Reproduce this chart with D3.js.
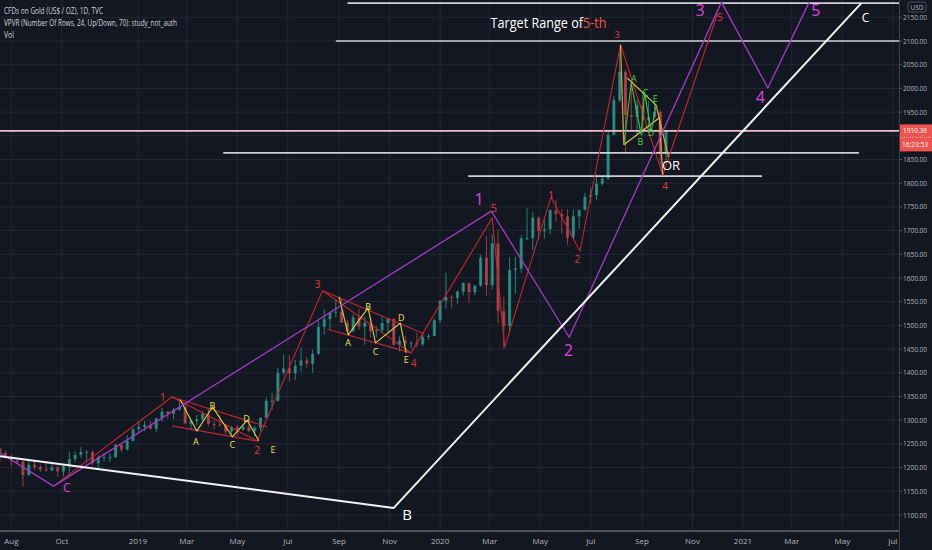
<!DOCTYPE html>
<html>
<head>
<meta charset="utf-8">
<script src="https://cdn.jsdelivr.net/npm/d3@7"></script>
<style>
  body { margin: 0; background: #131722; overflow: hidden; }
  svg { display: block; }
  text { font-family: "Open Sans", sans-serif; }
</style>
</head>
<body>
<div class="chart"></div>
<script>
// Weekly candles: [week start, open, high, low, close]
const candles = [
  ["2018-07-16",1241,1244,1211,1231],["2018-07-23",1231,1236,1219,1223],["2018-07-30",1223,1227,1204,1214],
  ["2018-08-06",1214,1220,1207,1212],["2018-08-13",1212,1219,1160,1184],["2018-08-20",1184,1214,1183,1206],
  ["2018-08-27",1206,1215,1195,1201],["2018-09-03",1201,1206,1191,1196],["2018-09-10",1196,1214,1191,1194],
  ["2018-09-17",1194,1211,1192,1200],["2018-09-24",1200,1204,1180,1192],["2018-10-01",1192,1208,1181,1203],
  ["2018-10-08",1203,1233,1183,1218],["2018-10-15",1218,1234,1212,1227],["2018-10-22",1227,1243,1221,1233],
  ["2018-10-29",1233,1237,1211,1233],["2018-11-05",1233,1237,1205,1209],["2018-11-12",1209,1226,1196,1222],
  ["2018-11-19",1222,1230,1212,1222],["2018-11-26",1222,1230,1212,1222],["2018-12-03",1222,1250,1221,1248],
  ["2018-12-10",1248,1252,1233,1238],["2018-12-17",1238,1268,1236,1256],["2018-12-24",1256,1284,1256,1281],
  ["2018-12-31",1281,1298,1276,1286],["2019-01-07",1286,1298,1277,1290],["2019-01-14",1290,1298,1280,1282],
  ["2019-01-21",1282,1305,1275,1304],["2019-01-28",1304,1326,1297,1318],["2019-02-04",1318,1320,1303,1314],
  ["2019-02-11",1314,1326,1302,1322],["2019-02-18",1322,1346,1320,1328],["2019-02-25",1328,1335,1291,1293],
  ["2019-03-04",1293,1301,1280,1298],["2019-03-11",1298,1311,1289,1302],["2019-03-18",1302,1320,1298,1313],
  ["2019-03-25",1313,1324,1288,1292],["2019-04-01",1292,1298,1281,1291],["2019-04-08",1291,1310,1286,1290],
  ["2019-04-15",1290,1292,1270,1276],["2019-04-22",1276,1288,1266,1286],["2019-04-29",1286,1290,1267,1280],
  ["2019-05-06",1280,1290,1278,1286],["2019-05-13",1286,1303,1275,1277],["2019-05-20",1277,1288,1266,1284],
  ["2019-05-27",1284,1306,1277,1305],["2019-06-03",1305,1348,1305,1341],["2019-06-10",1341,1358,1322,1341],
  ["2019-06-17",1341,1411,1339,1400],["2019-06-24",1400,1439,1395,1409],["2019-07-01",1409,1437,1382,1399],
  ["2019-07-08",1399,1427,1385,1415],["2019-07-15",1415,1453,1402,1426],["2019-07-22",1426,1433,1411,1419],
  ["2019-07-29",1419,1449,1400,1440],["2019-08-05",1440,1510,1438,1497],["2019-08-12",1497,1535,1480,1513],
  ["2019-08-19",1513,1527,1491,1527],["2019-08-26",1527,1555,1517,1529],["2019-09-02",1529,1557,1505,1506],
  ["2019-09-09",1506,1512,1484,1488],["2019-09-16",1488,1524,1485,1517],["2019-09-23",1517,1535,1490,1497],
  ["2019-09-30",1497,1519,1459,1505],["2019-10-07",1505,1517,1474,1488],["2019-10-14",1488,1498,1475,1490],
  ["2019-10-21",1490,1519,1484,1505],["2019-10-28",1505,1516,1486,1514],["2019-11-04",1514,1515,1457,1459],
  ["2019-11-11",1459,1477,1445,1468],["2019-11-18",1468,1478,1456,1462],["2019-11-25",1462,1466,1451,1464],
  ["2019-12-02",1464,1484,1454,1460],["2019-12-09",1460,1480,1456,1476],["2019-12-16",1476,1482,1470,1478],
  ["2019-12-23",1478,1514,1477,1511],["2019-12-30",1511,1553,1505,1552],["2020-01-06",1552,1611,1535,1560],
  ["2020-01-13",1560,1563,1536,1558],["2020-01-20",1558,1574,1546,1571],["2020-01-27",1571,1591,1563,1589],
  ["2020-02-03",1589,1591,1547,1570],["2020-02-10",1570,1584,1564,1584],["2020-02-17",1584,1649,1581,1643],
  ["2020-02-24",1643,1689,1563,1585],["2020-03-02",1585,1692,1576,1673],["2020-03-09",1673,1703,1504,1530],
  ["2020-03-16",1530,1560,1451,1499],["2020-03-23",1499,1644,1483,1617],["2020-03-30",1617,1645,1567,1620],
  ["2020-04-06",1620,1690,1611,1684],["2020-04-13",1684,1747,1680,1684],["2020-04-20",1684,1739,1659,1727],
  ["2020-04-27",1727,1730,1680,1700],["2020-05-04",1700,1723,1683,1703],["2020-05-11",1703,1744,1692,1743],
  ["2020-05-18",1743,1765,1718,1735],["2020-05-25",1735,1745,1693,1730],["2020-06-01",1730,1745,1670,1685],
  ["2020-06-08",1685,1745,1683,1730],["2020-06-15",1730,1739,1704,1744],["2020-06-22",1744,1779,1742,1771],
  ["2020-06-29",1771,1789,1758,1775],["2020-07-06",1775,1818,1764,1799],["2020-07-13",1799,1815,1795,1810],
  ["2020-07-20",1810,1909,1807,1902],["2020-07-27",1902,1984,1902,1975],["2020-08-03",1975,2075,1970,2035],
  ["2020-08-10",2035,2040,1863,1944],["2020-08-17",1944,2015,1911,1940],["2020-08-24",1940,1976,1903,1964],
  ["2020-08-31",1964,1992,1902,1933],["2020-09-07",1933,1973,1907,1940],["2020-09-14",1940,1973,1936,1950],
  ["2020-09-21",1950,1954,1840,1862],["2020-09-28",1862,1896,1848,1910]
];

const priceTicks = [1100,1150,1200,1250,1300,1350,1400,1450,1500,1550,1600,1650,1700,1750,1800,1850,1900,1950,2000,2050,2100,2150];
const timeTicks = [
  ["2018-08-01","Aug"],["2018-10-01","Oct"],["2019-01-01","2019"],["2019-03-01","Mar"],["2019-05-01","May"],
  ["2019-07-01","Jul"],["2019-09-01","Sep"],["2019-11-01","Nov"],["2020-01-01","2020"],["2020-03-01","Mar"],
  ["2020-05-01","May"],["2020-07-01","Jul"],["2020-09-01","Sep"],["2020-11-01","Nov"],["2021-01-01","2021"],
  ["2021-03-01","Mar"],["2021-05-01","May"],["2021-07-01","Jul"]
];
const lastPrice = 1910.36;
const countdown = "16:23:53";

// drawings, as [date, price]
const whiteTrend = [["2018-07-18",1224],["2019-11-06",1115],["2021-05-24",2180]];
const magentaWave = [["2018-07-18",1231],["2018-09-21",1161],["2020-03-03",1741],["2020-06-05",1475],
  ["2020-12-06",2182],["2021-01-31",2001],["2021-03-22",2182]];
const redWave = [["2018-09-21",1161],["2019-02-11",1349],["2019-05-25",1256],["2019-08-12",1573],
  ["2019-11-27",1442],["2020-03-04",1727],["2020-03-19",1454],["2020-05-14",1771],["2020-06-18",1657],
  ["2020-08-06",2092],["2020-09-26",1817],["2020-12-01",2157]];
const redChannels = [
  [["2019-02-11",1349],["2019-06-06",1286]],
  [["2019-02-11",1288],["2019-05-25",1256]],
  [["2019-08-12",1573],["2019-12-13",1482]],
  [["2019-08-18",1492],["2019-11-27",1442]]
];
const yellowZigzags = [
  [["2019-02-21",1343],["2019-03-13",1277],["2019-04-01",1328],["2019-04-25",1265],["2019-05-13",1300],["2019-05-27",1256]],
  [["2019-09-01",1560],["2019-09-12",1480],["2019-10-06",1537],["2019-10-15",1463],["2019-11-14",1505],["2019-11-21",1442]],
  [["2020-08-10",1881],["2020-09-22",1938]],
  [["2020-08-14",2022],["2020-09-19",1963]]
];
const greenZigzag = [["2020-08-10",1881],["2020-08-19",2011],["2020-08-31",1902],["2020-09-04",1992],
  ["2020-09-12",1908],["2020-09-18",1965]];
const orangeLines = [
  [["2020-08-06",2092],["2020-08-10",1881]],
  [["2020-09-18",1965],["2020-10-03",1855]],
  [["2020-09-22",1938],["2020-09-26",1817]]
];
// [start, end (null = to the right edge), price]
const levels = [
  ["2019-09-11",null,2180],
  ["2019-08-28",null,2100],
  ["2019-04-14","2021-05-21",1864],
  ["2020-02-04","2021-01-24",1815]
];

// [text, date, price, colour, font size]
const labels = [
  ["1","2020-02-17",1767,"#e33ee6",16],["2","2020-06-04",1448,"#e33ee6",16],["3","2020-11-10",2165,"#e33ee6",16],
  ["4","2021-01-22",1982,"#e33ee6",16],["5","2021-03-30",2165,"#e33ee6",16],["C","2018-10-07",1159,"#e33ee6",12],
  ["B","2019-11-22",1102,"#ffffff",15],["C","2021-05-29",2149,"#ffffff",12],["OR","2020-10-06",1838,"#ffffff",13],
  ["1","2019-01-31",1349,"#e53935",10],["2","2019-05-25",1239,"#e53935",11],["3","2019-08-06",1587,"#e53935",10],
  ["4","2019-11-30",1421,"#e53935",10],["5","2020-03-06",1748,"#e53935",11],["1","2020-05-14",1775,"#e53935",10],
  ["2","2020-06-15",1640,"#e53935",10],["3","2020-08-02",2113,"#e53935",9],["4","2020-09-29",1794,"#e53935",10],
  ["5","2020-12-04",2151,"#e53935",10],
  ["A","2019-03-12",1256,"#e8e14c",9],["B","2019-04-01",1330,"#e8e14c",9],["C","2019-04-25",1248,"#e8e14c",9],
  ["D","2019-05-12",1303,"#e8e14c",9],["E","2019-06-13",1239,"#e8e14c",9],
  ["A","2019-09-12",1463,"#e8e14c",9],["B","2019-10-06",1539,"#e8e14c",9],["C","2019-10-15",1444,"#e8e14c",9],
  ["D","2019-11-15",1516,"#e8e14c",9],["E","2019-11-21",1429,"#e8e14c",9],
  ["A","2020-08-22",2020,"#3fd44a",9],["B","2020-08-30",1889,"#3fd44a",9],["C","2020-09-05",1992,"#3fd44a",9],
  ["D","2020-09-12",1906,"#3fd44a",9],["E","2020-09-17",1978,"#3fd44a",9]
];

// Target range note: [text, colour]
const noteParts = [["Target Range of", "#ffffff"], ["5-th", "#f05a3c"]];
const noteDate = "2020-03-02", notePrice = 2128;

const W = 932, H = 550, plotW = 899, plotH = 531;
const parse = d3.utcParse("%Y-%m-%d");

const x = d3.scaleUtc()
    .domain([parse("2019-01-01"), parse("2021-01-01")])
    .range([138, 743]);
const y = d3.scaleLinear()
    .domain([1100, 2100])
    .range([515, 41]);

const svg = d3.select(".chart").append("svg")
    .attr("width", W)
    .attr("height", H);

svg.append("rect").attr("width", W).attr("height", H).attr("fill", "#131722");
svg.append("defs").append("clipPath").attr("id", "plot")
    .append("rect").attr("width", plotW).attr("height", plotH);

const plot = svg.append("g").attr("clip-path", "url(#plot)");

// Grid
plot.selectAll(".vgrid").data(timeTicks).enter().append("line")
    .attr("x1", d => x(parse(d[0]))).attr("x2", d => x(parse(d[0])))
    .attr("y1", 0).attr("y2", plotH)
    .attr("stroke", "#232734");
plot.selectAll(".hgrid").data(priceTicks).enter().append("line")
    .attr("x1", 0).attr("x2", plotW)
    .attr("y1", d => y(d)).attr("y2", d => y(d))
    .attr("stroke", "#232734");

// Candles (centred mid-week)
const cx = d => x(d3.utcDay.offset(parse(d[0]), 2));
const up = d => d[4] >= d[1];
plot.selectAll(".wick").data(candles).enter().append("line")
    .attr("x1", cx).attr("x2", cx)
    .attr("y1", d => y(d[2])).attr("y2", d => y(d[3]))
    .attr("stroke", d => up(d) ? "#2a9b8f" : "#b8474c")
    .attr("stroke-opacity", 0.8);
plot.selectAll(".body").data(candles).enter().append("rect")
    .attr("x", d => cx(d) - 1.5)
    .attr("width", 3)
    .attr("y", d => y(Math.max(d[1], d[4])))
    .attr("height", d => Math.max(1, Math.abs(y(d[1]) - y(d[4]))))
    .attr("fill", d => up(d) ? "#2a9b8f" : "#b8474c")
    .attr("fill-opacity", 0.8);

// Horizontal levels
plot.selectAll(".level").data(levels).enter().append("line")
    .attr("x1", d => x(parse(d[0])))
    .attr("x2", d => d[1] ? x(parse(d[1])) : plotW)
    .attr("y1", d => y(d[2])).attr("y2", d => y(d[2]))
    .attr("stroke", "#cfd0d4")
    .attr("stroke-width", 1.6);

// Last price line
plot.append("line")
    .attr("x1", 0).attr("x2", plotW)
    .attr("y1", y(lastPrice)).attr("y2", y(lastPrice))
    .attr("stroke", "#e8c3ca")
    .attr("stroke-width", 1.6);

const line = d3.line().x(d => x(parse(d[0]))).y(d => y(d[1]));

function drawPaths(data, colour, width) {
    plot.append("g").selectAll("path").data(data).enter().append("path")
        .attr("d", line)
        .attr("fill", "none")
        .attr("stroke", colour)
        .attr("stroke-width", width)
        .attr("stroke-linejoin", "round");
}

drawPaths(redChannels, "#c4262c", 1.1);
drawPaths([redWave], "#c4262c", 1.1);
drawPaths(yellowZigzags, "#d9cf45", 1.1);
drawPaths(orangeLines, "#e5a33a", 1.2);
drawPaths([greenZigzag], "#3fc54a", 1.1);
drawPaths([magentaWave], "#a53ac4", 1.3);
drawPaths([whiteTrend], "#f2f2f2", 2);

// Wave labels
plot.selectAll(".lbl").data(labels).enter().append("text")
    .attr("x", d => x(parse(d[1])))
    .attr("y", d => y(d[2]))
    .attr("text-anchor", "middle")
    .attr("dominant-baseline", "central")
    .attr("fill", d => d[3])
    .attr("font-size", d => d[4])
    .text(d => d[0]);

// Target range note
const note = plot.append("text")
    .attr("x", x(parse(noteDate)))
    .attr("y", y(notePrice))
    .attr("font-size", 15)
    .attr("textLength", 116)
    .attr("lengthAdjust", "spacingAndGlyphs");
note.selectAll("tspan").data(noteParts).enter().append("tspan")
    .attr("fill", d => d[1])
    .text(d => d[0]);

// Header
const header = ["CFDs on Gold (US$ / OZ), 1D, TVC", "VPVR (Number Of Rows, 24, Up/Down, 70): study_not_auth", "Vol"];
const headerLen = [99, 173, 10];
svg.selectAll(".hdr").data(header).enter().append("text")
    .attr("x", 4)
    .attr("y", (d, i) => 13.5 + i * 12)
    .attr("font-size", 8.5)
    .attr("fill", "#d1d4dc")
    .attr("textLength", (d, i) => headerLen[i])
    .attr("lengthAdjust", "spacingAndGlyphs")
    .text(d => d);

// Price axis
const tagY = y(lastPrice);
svg.append("line")
    .attr("x1", plotW + 0.5).attr("x2", plotW + 0.5)
    .attr("y1", 0).attr("y2", H)
    .attr("stroke", "#3b3f4b");
svg.selectAll(".ptick").data(priceTicks).enter().append("line")
    .attr("x1", plotW).attr("x2", plotW + 3)
    .attr("y1", d => y(d)).attr("y2", d => y(d))
    .attr("stroke", "#50535e");
// the 1900 label sits under the last-price tag
svg.selectAll(".plabel").data(priceTicks.filter(d => Math.abs(y(d) - tagY) > 12)).enter().append("text")
    .attr("x", 903)
    .attr("y", d => y(d))
    .attr("dominant-baseline", "central")
    .attr("font-size", 6.5)
    .attr("fill", "#b2b5be")
    .attr("textLength", 24)
    .attr("lengthAdjust", "spacingAndGlyphs")
    .text(d => d3.format(".2f")(d));

// USD box
svg.append("rect")
    .attr("x", 908).attr("y", 2).attr("width", 18).attr("height", 10).attr("rx", 2)
    .attr("fill", "#131722").attr("stroke", "#4a4e5a");
svg.append("text")
    .attr("x", 917).attr("y", 7)
    .attr("text-anchor", "middle").attr("dominant-baseline", "central")
    .attr("font-size", 6.5).attr("fill", "#b2b5be")
    .text("USD");

// Last price tag
svg.append("rect")
    .attr("x", plotW + 1).attr("y", tagY - 6.5)
    .attr("width", W - plotW - 1).attr("height", 27)
    .attr("fill", "#ef5350");
svg.append("line")
    .attr("x1", plotW + 1).attr("x2", W)
    .attr("y1", tagY + 6.5).attr("y2", tagY + 6.5)
    .attr("stroke", "#ffffff").attr("stroke-opacity", 0.5)
    .attr("stroke-dasharray", "1,1");
svg.append("text")
    .attr("x", 903).attr("y", tagY)
    .attr("dominant-baseline", "central")
    .attr("font-size", 6.5).attr("fill", "#ffffff")
    .attr("textLength", 24).attr("lengthAdjust", "spacingAndGlyphs")
    .text(d3.format(".2f")(lastPrice));
svg.append("text")
    .attr("x", 902).attr("y", tagY + 13.5)
    .attr("dominant-baseline", "central")
    .attr("font-size", 6.5).attr("fill", "#ffffff")
    .attr("textLength", 26).attr("lengthAdjust", "spacingAndGlyphs")
    .text(countdown);

// Time axis
svg.append("line")
    .attr("x1", 0).attr("x2", plotW)
    .attr("y1", plotH).attr("y2", plotH)
    .attr("stroke", "#4e525d")
    .attr("stroke-width", 2);
svg.selectAll(".tlabel").data(timeTicks).enter().append("text")
    .attr("x", d => x(parse(d[0])))
    .attr("y", 544)
    .attr("text-anchor", "middle")
    .attr("font-size", 8)
    .attr("fill", "#b2b5be")
    .text(d => d[1]);
</script>
</body>
</html>
